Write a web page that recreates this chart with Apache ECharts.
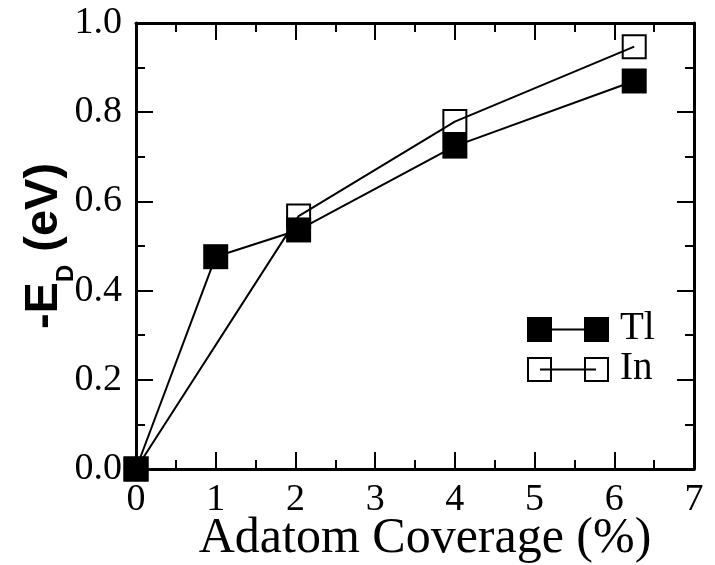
<!DOCTYPE html>
<html><head><meta charset="utf-8">
<script src="https://cdn.jsdelivr.net/npm/echarts@6/dist/echarts.min.js"></script>
<style>html,body{margin:0;padding:0;background:#fff}#c{width:715px;height:565px}</style>
</head><body><div id="c"></div>
<script>
var coverageTl = [0, 1, 2.04, 4, 6.25];
var energyTl = [0, 0.476, 0.536, 0.724, 0.870];
var coverageIn = [0, 2.04, 4, 6.25];
var energyIn = [0, 0.567, 0.779, 0.947];
var seriesNames = ['Tl', 'In'];
var xTicks = [0, 1, 2, 3, 4, 5, 6, 7];
var yTicks = ['0.0', '0.2', '0.4', '0.6', '0.8', '1.0'];

function pairs(xs, ys) { return xs.map(function (x, i) { return [x, ys[i]]; }); }

var serif = '"Liberation Serif", "Times New Roman", serif';
var sans = '"Liberation Sans", Arial, sans-serif';

function xAx(pos, labels) {
  return {
    type: 'value', position: pos, min: 0, max: 7, interval: 1,
    axisLine: { show: true, onZero: false, lineStyle: { color: '#000', width: 3 } },
    axisTick: { show: true, inside: true, length: 17, lineStyle: { color: '#000', width: 2 } },
    minorTick: { show: true, splitNumber: 2, length: 9, lineStyle: { color: '#000', width: 2 } },
    splitLine: { show: false },
    axisLabel: { show: labels, margin: 12, color: '#000', fontFamily: serif, fontSize: 38,
      formatter: function (v) { return xTicks.indexOf(v) >= 0 ? String(v) : ''; } }
  };
}
function yAx(pos, labels) {
  return {
    type: 'value', position: pos, min: 0, max: 1, interval: 0.2,
    axisLine: { show: true, onZero: false, lineStyle: { color: '#000', width: 3 } },
    axisTick: { show: true, inside: true, length: 17, lineStyle: { color: '#000', width: 2 } },
    minorTick: { show: true, splitNumber: 2, length: 9, lineStyle: { color: '#000', width: 2 } },
    splitLine: { show: false },
    axisLabel: { show: labels, margin: 14, color: '#000', fontFamily: serif, fontSize: 38,
      formatter: function (v) { return yTicks[Math.round(v / 0.2)]; } }
  };
}

var xb = xAx('bottom', true);
xb.name = 'Adatom Coverage (%)';
xb.nameLocation = 'middle';
xb.nameGap = 45;
xb.nameMoveOverlap = false;
xb.nameTextStyle = { color: '#000', fontFamily: serif, fontSize: 50, padding: [0, 0, 0, 20] };
var yl = yAx('left', true);
yl.name = '-E{d|D} (eV)';
yl.nameLocation = 'middle';
yl.nameGap = 68;
yl.nameMoveOverlap = false;
yl.nameRotate = 90;
yl.nameTextStyle = { color: '#000', fontFamily: sans, fontWeight: 'bold', fontSize: 47, lineHeight: 47,
  rich: { d: { fontFamily: sans, fontWeight: 'bold', fontSize: 24, lineHeight: 47, verticalAlign: 'bottom', padding: [0, 0, -10, 0] } } };

var legendX = 527, legendY1 = 317, legendY2 = 357;
var option = {
  animation: false,
  backgroundColor: '#fff',
  grid: { left: 136, top: 23, right: 21, bottom: 96, containLabel: false, outerBoundsMode: 'none' },
  xAxis: [xb, xAx('top', false)],
  yAxis: [yl, yAx('right', false)],
  series: [
    { name: seriesNames[1], type: 'line', data: pairs(coverageIn, energyIn), clip: false,
      symbol: 'rect', symbolSize: 23, z: 3,
      lineStyle: { color: '#000', width: 2 },
      itemStyle: { color: 'rgba(0,0,0,0)', borderColor: '#000', borderWidth: 2 } },
    { name: seriesNames[0], type: 'line', data: pairs(coverageTl, energyTl), clip: false,
      symbol: 'rect', symbolSize: 25, z: 4,
      lineStyle: { color: '#000', width: 2 },
      itemStyle: { color: '#000', borderWidth: 0 } }
  ],
  graphic: [
    { type: 'line', shape: { x1: legendX + 12, y1: legendY1 + 12.5, x2: legendX + 69, y2: legendY1 + 12.5 }, style: { stroke: '#000', lineWidth: 2 }, z: 10 },
    { type: 'rect', shape: { x: legendX, y: legendY1, width: 25, height: 25 }, style: { fill: '#000' }, z: 11 },
    { type: 'rect', shape: { x: legendX + 57, y: legendY1, width: 25, height: 25 }, style: { fill: '#000' }, z: 11 },
    { type: 'text', left: 620, top: legendY1 - 8, style: { text: seriesNames[0], font: '39px ' + serif, fill: '#000' }, z: 11 },
    { type: 'rect', shape: { x: legendX + 1, y: legendY2 + 1, width: 23, height: 23 }, style: { fill: 'none', stroke: '#000', lineWidth: 2 }, z: 11 },
    { type: 'rect', shape: { x: legendX + 58, y: legendY2 + 1, width: 23, height: 23 }, style: { fill: 'none', stroke: '#000', lineWidth: 2 }, z: 11 },
    { type: 'line', shape: { x1: legendX + 13, y1: legendY2 + 12.5, x2: legendX + 69, y2: legendY2 + 12.5 }, style: { stroke: '#000', lineWidth: 2 }, z: 10 },
    { type: 'text', left: 620, top: legendY2 - 8, style: { text: seriesNames[1], font: '39px ' + serif, fill: '#000' }, z: 11 }
  ]
};
echarts.init(document.getElementById('c'), null, { renderer: 'canvas' }).setOption(option);
</script></body></html>
